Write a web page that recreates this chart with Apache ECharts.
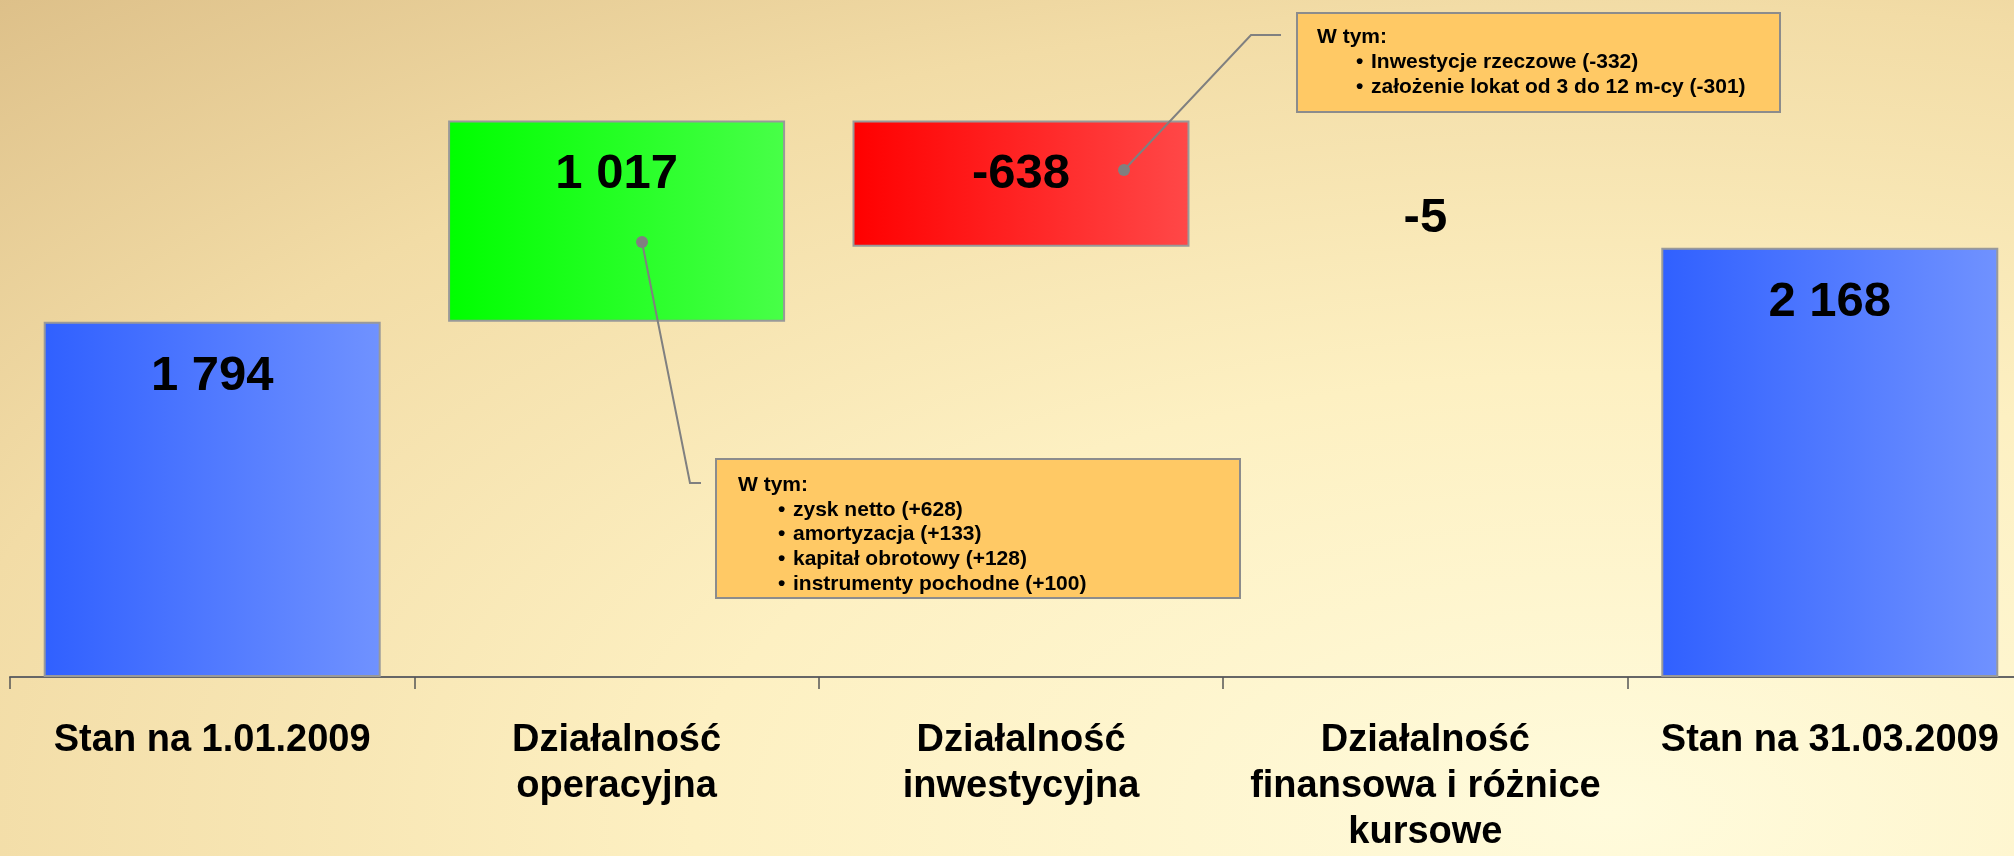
<!DOCTYPE html>
<html lang="pl">
<head>
  <meta charset="UTF-8">
  <title>Przepływy pieniężne</title>
  <script src="https://cdn.jsdelivr.net/npm/echarts@6/dist/echarts.min.js"></script>
  <style>
    html, body { margin: 0; padding: 0; }
    body {
      width: 2014px; height: 856px; overflow: hidden;
      background: radial-gradient(ellipse 120% 135% at 80% 95%, #fffbdc 0%, #fdf0c2 38%, #f2dca6 70%, #dbbd86 100%);
    }
    /* nieco szerszy niż okno: ostatnia kategoria wychodzi poza kadr */
    #chart { width: 2040px; height: 856px; }
  </style>
</head>
<body>
  <div id="chart"></div>
  <script>
    // dane
    const categories = ['Stan na 1.01.2009', 'Działalność\noperacyjna', 'Działalność\ninwestycyjna', 'Działalność\nfinansowa i różnice\nkursowe', 'Stan na 31.03.2009'];
    const changes = [1794, 1017, -638, -5, 2168];
    const kinds = ['total', 'delta', 'delta', 'delta', 'total'];

    // opisy (W tym:)
    const investNotes = ['Inwestycje rzeczowe (-332)', 'założenie lokat od 3 do 12 m-cy (-301)'];
    const operNotes = ['zysk netto (+628)', 'amortyzacja (+133)', 'kapitał obrotowy (+128)', 'instrumenty pochodne (+100)'];

    const FONT = "'Liberation Sans', Arial, sans-serif";

    // podstawa i wysokość słupków (waterfall)
    const base = [], height = [];
    let running = 0;
    changes.forEach((v, i) => {
      if (kinds[i] === 'total') { base.push(0); height.push(v); running = v; }
      else if (v >= 0) { base.push(running); height.push(v); running += v; }
      else { running += v; base.push(running); height.push(-v); }
    });

    const grad = (c1, c2) => new echarts.graphic.LinearGradient(0, 0, 1, 0, [
      { offset: 0, color: c1 }, { offset: 1, color: c2 }
    ]);
    const fmt = v => String(v).replace(/\B(?=(\d{3})+(?!\d))/g, ' ');

    const barData = height.map((h, i) => {
      const v = changes[i];
      let color = kinds[i] === 'total' ? grad('#3060ff', '#7092ff')
        : (v >= 0 ? grad('#00ff00', '#48ff48') : grad('#ff0000', '#ff4848'));
      const small = Math.abs(v) < 50;
      return {
        value: h,
        itemStyle: small ? { color: 'transparent', borderWidth: 0 } : { color: color },
        label: small ? { position: 'top', distance: 4 } : {}
      };
    });

    // ramki z opisami
    function noteBox(x, y, w, h, titleX, titleY, bulletX, lines, step) {
      const txt = (tx, ty, t) => ({ type: 'text', z: 100, x: tx, y: ty,
        style: { text: t, font: 'bold 21px ' + FONT, fill: '#000', verticalAlign: 'middle' } });
      const children = [
        { type: 'rect', z: 99, shape: { x: x, y: y, width: w, height: h },
          style: { fill: '#ffc965', stroke: '#8c8c8c', lineWidth: 2 } },
        txt(titleX, titleY, 'W tym:')
      ];
      lines.forEach((t, i) => {
        const ly = titleY + step * (i + 1);
        children.push(txt(bulletX, ly, '•'));
        children.push(txt(bulletX + 15, ly, t));
      });
      return { type: 'group', children: children };
    }

    function connector(points) {
      const p0 = points[0];
      return { type: 'group', children: [
        { type: 'polyline', z: 100, shape: { points: points }, style: { stroke: '#808080', lineWidth: 2, fill: null } },
        { type: 'circle', z: 101, shape: { cx: p0[0], cy: p0[1], r: 6 }, style: { fill: '#808080' } }
      ] };
    }

    const chart = echarts.init(document.getElementById('chart'));
    chart.setOption({
      backgroundColor: 'transparent',
      animation: false,
      grid: { left: 10, right: 8, top: 83, bottom: 174 },
      xAxis: {
        type: 'category',
        data: categories,
        axisLine: { lineStyle: { color: '#666', width: 2 } },
        axisTick: { show: true, length: 12, lineStyle: { color: '#555', width: 1.5 } },
        axisLabel: {
          interval: 0, margin: 41, color: '#000',
          fontFamily: FONT, fontWeight: 'bold', fontSize: 38, lineHeight: 46
        }
      },
      yAxis: { type: 'value', min: 0, max: 3000, show: false, splitLine: { show: false } },
      series: [
        { type: 'bar', stack: 'w', data: base, barWidth: 337,
          itemStyle: { color: 'transparent' }, silent: true },
        { type: 'bar', stack: 'w', data: barData, barWidth: 337,
          itemStyle: { borderColor: '#999', borderWidth: 2 },
          label: {
            show: true, position: 'insideTop', distance: 30,
            fontFamily: FONT, fontWeight: 'bold', fontSize: 49, color: '#000',
            formatter: p => fmt(changes[p.dataIndex])
          }
        }
      ],
      graphic: [
        connector([[1124, 170], [1251, 35], [1281, 35]]),
        noteBox(1297, 13, 483, 99, 1317, 37, 1356, investNotes, 25),
        connector([[642, 242], [690, 483], [701, 483]]),
        noteBox(716, 459, 524, 139, 738, 485, 778, operNotes, 24.75)
      ]
    });
  </script>
</body>
</html>
